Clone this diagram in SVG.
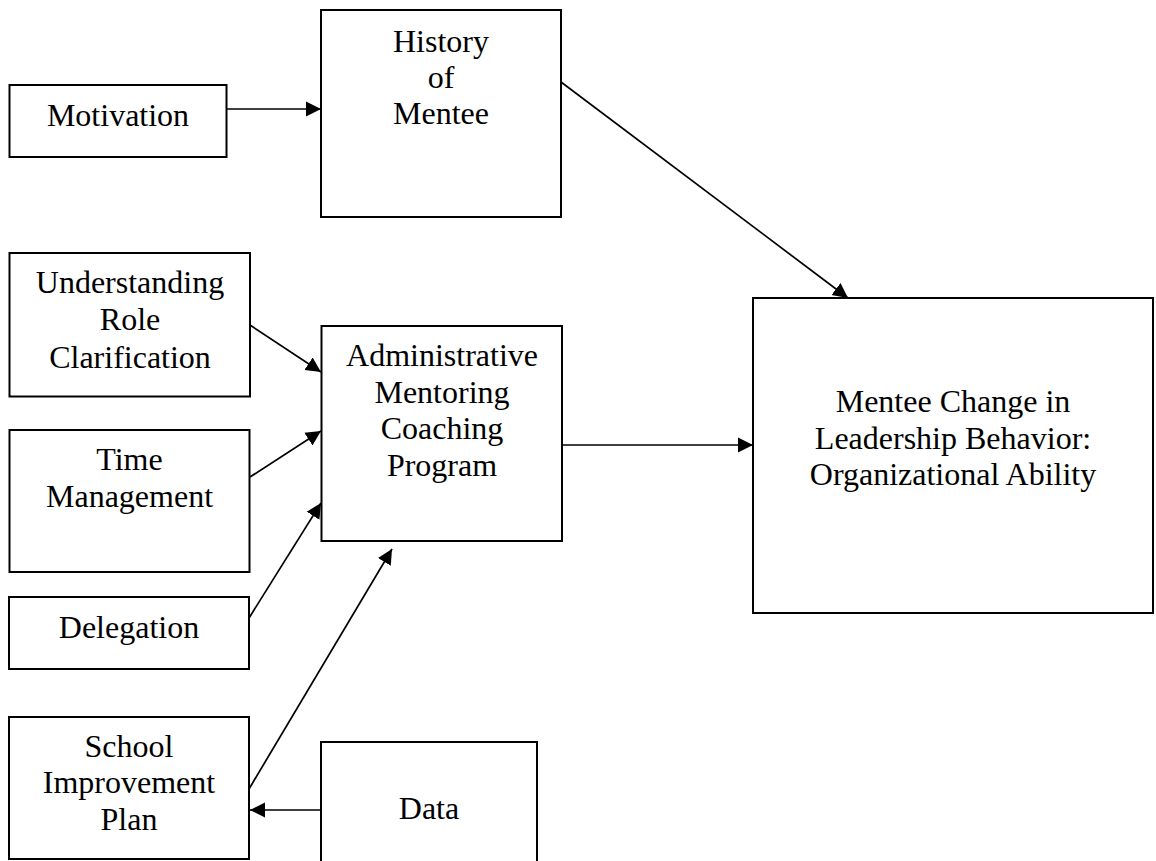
<svg xmlns="http://www.w3.org/2000/svg" width="1156" height="861" viewBox="0 0 1156 861">
  <style>
    .box { fill: #ffffff; stroke: #000000; stroke-width: 2; }
    .lbl { font-family: "Liberation Serif", "Times New Roman", serif; font-size: 32px; fill: #000000; text-anchor: middle; }
    .edge { stroke: #000000; stroke-width: 1.7; fill: none; marker-end: url(#arrow); }
  </style>
  <defs>
    <marker id="arrow" markerUnits="userSpaceOnUse" markerWidth="16" markerHeight="16" refX="15" refY="8" orient="auto">
      <path d="M0,0.5 L15,8 L0,15.5 z" fill="#000000"/>
    </marker>
  </defs>
  <rect width="1156" height="861" fill="#ffffff"/>

  <!-- connectors -->
  <g id="connectors">
    <line class="edge" x1="227" y1="109" x2="321" y2="109"/>
    <line class="edge" x1="561" y1="82" x2="848" y2="298"/>
    <line class="edge" x1="250" y1="325" x2="321" y2="372"/>
    <line class="edge" x1="250" y1="477" x2="321" y2="431"/>
    <line class="edge" x1="249" y1="618" x2="321" y2="503"/>
    <line class="edge" x1="249" y1="789" x2="392" y2="549"/>
    <line class="edge" x1="321" y1="810" x2="250" y2="810"/>
    <line class="edge" x1="562" y1="445" x2="753" y2="445"/>
  </g>

  <!-- nodes -->
  <g id="motivation">
    <rect class="box" x="9.5" y="85" width="217" height="72"/>
    <text class="lbl" x="118" y="126">Motivation</text>
  </g>
  <g id="history">
    <rect class="box" x="321" y="10" width="240" height="207"/>
    <text class="lbl" x="441" y="52">History</text>
    <text class="lbl" x="441" y="88">of</text>
    <text class="lbl" x="441" y="124">Mentee</text>
  </g>
  <g id="understanding">
    <rect class="box" x="9.5" y="253" width="240.5" height="143.5"/>
    <text class="lbl" x="130" y="293">Understanding</text>
    <text class="lbl" x="130" y="330">Role</text>
    <text class="lbl" x="130" y="368">Clarification</text>
  </g>
  <g id="time-management">
    <rect class="box" x="9.5" y="430" width="240" height="142"/>
    <text class="lbl" x="129.5" y="470">Time</text>
    <text class="lbl" x="129.5" y="507">Management</text>
  </g>
  <g id="delegation">
    <rect class="box" x="9" y="597" width="240" height="72"/>
    <text class="lbl" x="129" y="638">Delegation</text>
  </g>
  <g id="school-improvement">
    <rect class="box" x="9" y="717" width="240" height="142"/>
    <text class="lbl" x="129" y="757">School</text>
    <text class="lbl" x="129" y="793">Improvement</text>
    <text class="lbl" x="129" y="830">Plan</text>
  </g>
  <g id="data">
    <rect class="box" x="321" y="742" width="216" height="125"/>
    <text class="lbl" x="429" y="819">Data</text>
  </g>
  <g id="program">
    <rect class="box" x="321.5" y="326" width="240.5" height="215"/>
    <text class="lbl" x="442" y="366">Administrative</text>
    <text class="lbl" x="442" y="403">Mentoring</text>
    <text class="lbl" x="442" y="439">Coaching</text>
    <text class="lbl" x="442" y="476">Program</text>
  </g>
  <g id="outcome">
    <rect class="box" x="753" y="298" width="400" height="315"/>
    <text class="lbl" x="953" y="412">Mentee Change in</text>
    <text class="lbl" x="953" y="449">Leadership Behavior:</text>
    <text class="lbl" x="953" y="485">Organizational Ability</text>
  </g>
</svg>
